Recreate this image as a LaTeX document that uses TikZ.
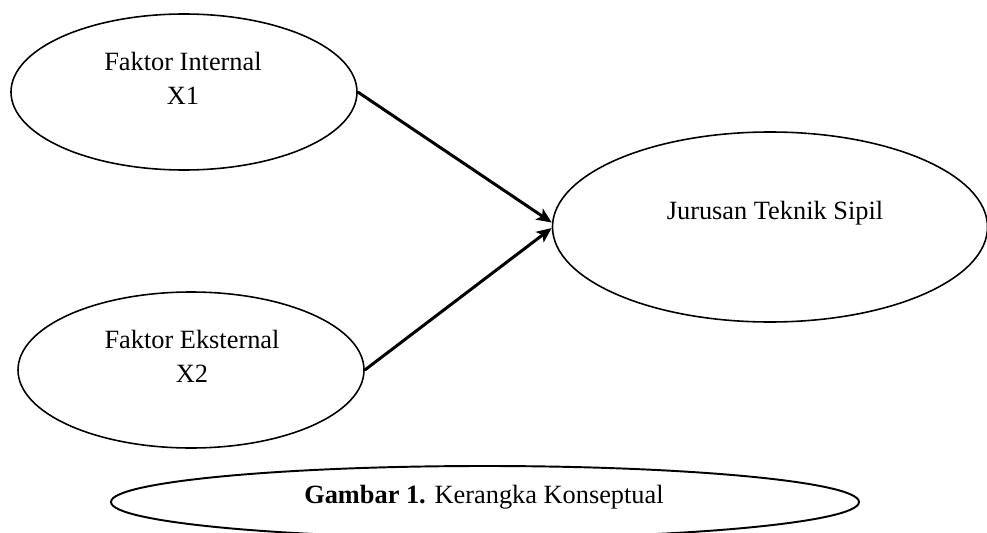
\documentclass[tikz,border=0pt]{standalone}
\usepackage{fontspec}
\setmainfont{Liberation Serif}
\usetikzlibrary{arrows.meta,positioning,shapes.geometric}
\tikzset{%
	faktor/.style  = {draw, ellipse, line width=0.9pt, minimum width=6.92cm, minimum height=3.12cm},
	hasil/.style   = {draw, ellipse, line width=0.9pt, minimum width=8.7cm, minimum height=3.8cm},
	judul/.style   = {draw, ellipse, line width=1.1pt, minimum width=14.96cm, minimum height=1.44cm},
	teks/.style    = {align=center, font=\fontsize{15}{19.5}\selectfont},
	arrow/.style   = {line width=1.7pt,-{Stealth[length=3mm,width=2.6mm,inset=0.7mm]}},
}
\begin{document}
\begin{tikzpicture}
	\useasboundingbox (0,0) rectangle (19.74,10.64);
	
	\node[faktor] (internal) at (3.68,8.80) {};
	\node[faktor] (eksternal) at (3.82,3.24) {};
	\node[hasil] (jurusan) at (15.40,6.10) {};
	\node[judul] (gambar) at (9.70,0.60) {};
	
	\node[teks] (tInternal) at (3.66,9.08) {Faktor Internal\\X1};
	\node[teks] (tEksternal) at (3.84,3.52) {Faktor Eksternal\\X2};
	\node[teks] (tJurusan) at (15.50,6.38) {Jurusan Teknik Sipil};
	\node[teks] (tGambar) at (9.68,0.70) {\textbf{Gambar 1.} Kerangka Konseptual};
	
	\draw[arrow] (internal.east) -- ([yshift=0.09cm]jurusan.west);
	\draw[arrow] (eksternal.east) -- ([yshift=-0.02cm]jurusan.west);
\end{tikzpicture}
\end{document}
